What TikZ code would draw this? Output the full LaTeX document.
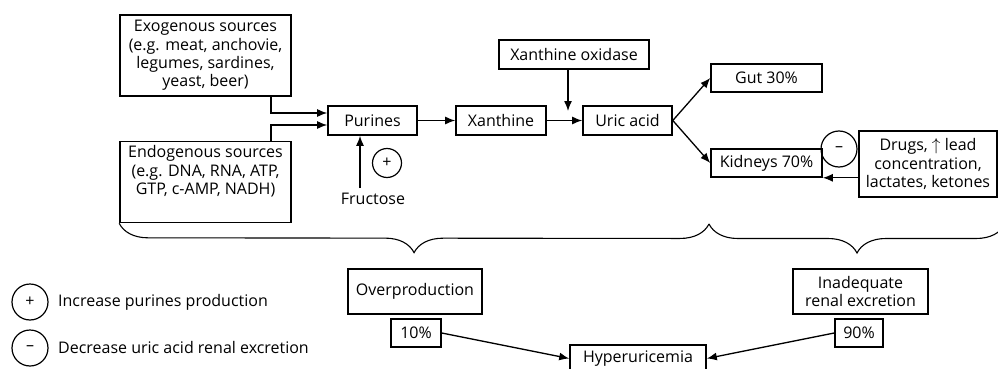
\documentclass[tikz,border=0pt]{standalone}
\usepackage{fontspec}
\setmainfont{Open Sans}
\usetikzlibrary{arrows.meta,decorations.pathreplacing}
\begin{document}
\begin{tikzpicture}[x=1pt,y=-1pt,
  box/.style={draw, line width=1.6pt, inner sep=0pt, align=center, font=\fontsize{16}{18.3}\selectfont},
  arr/.style={line width=1.3pt, -{Latex[length=10pt,width=8pt]}},
  sig/.style={draw, circle, line width=1.2pt, inner sep=0pt, font=\fontsize{16}{16}\selectfont},
  lbl/.style={inner sep=0pt, font=\fontsize{16}{18.3}\selectfont},
  brc/.style={line width=1.1pt, decorate, decoration={brace, mirror, amplitude=29pt}}]
\useasboundingbox (0,0) rectangle (998,369);

\node[box, minimum width=171pt, minimum height=81pt] (exo) at (205.5,55.5)
  {Exogenous sources\\(e.g. meat, anchovie,\\legumes, sardines,\\yeast, beer)};
\node[box, minimum width=171pt, minimum height=81pt] (endo) at (205.5,182)
  {Endogenous sources\\(e.g. DNA, RNA, ATP,\\GTP, c-AMP, NADH)\\ \strut};
\node[box, minimum width=89pt, minimum height=29pt] (pur) at (372.5,120.5) {Purines};
\node[box, minimum width=90pt, minimum height=29pt] (xan) at (501,120.5) {Xanthine};
\node[box, minimum width=89pt, minimum height=29pt] (uric) at (627.5,120.5) {Uric acid};
\node[box, minimum width=150pt, minimum height=29pt] (xo) at (574,54.5) {Xanthine oxidase};
\node[box, minimum width=111pt, minimum height=28pt] (gut) at (766.5,78) {Gut 30\%};
\node[box, minimum width=111pt, minimum height=28pt] (kid) at (766.5,163) {Kidneys 70\%};
\node[box, minimum width=138pt, minimum height=66pt] (drugs) at (928,164)
  {Drugs, $\uparrow$ lead\\concentration,\\lactates, ketones};
\node[box, minimum width=134pt, minimum height=45pt] (over) at (415,291.5) {Overproduction};
\node[box, minimum width=50pt, minimum height=28pt] (p10) at (416,333) {10\%};
\node[box, minimum width=135pt, minimum height=45pt] (inad) at (860.5,291.5) {Inadequate\\renal excretion};
\node[box, minimum width=48pt, minimum height=28pt] (p90) at (859,333) {90\%};
\node[box, minimum width=136pt, minimum height=27pt] (hyper) at (638,358.5) {Hyperuricemia};

\node[lbl] (fru) at (373,199) {Fructose};
\node[sig, minimum size=29pt] (pf) at (387,163) {+};
\node[sig, minimum size=36pt] (md) at (839,149) {–};

\node[sig, minimum size=36pt] (lp) at (30,302) {+};
\node[lbl, anchor=west] (lpt) at (58,302) {Increase purines production};
\node[sig, minimum size=36pt] (lm) at (30,348) {–};
\node[lbl, anchor=west] (lmt) at (58,347) {Decrease uric acid renal excretion};

\coordinate (e1) at (271,113);
\coordinate (e2) at (271,125);
\draw[arr] (exo.south -| e1) |- (pur.west |- e1);
\draw[arr] (endo.north -| e2) |- (pur.west |- e2);
\draw[arr] (pur) -- (xan);
\draw[arr] (xan) -- (uric);
\coordinate (xoe) at (568,111);
\draw[arr] (xo.south -| xoe) -- (xoe);
\draw[arr] (uric.east) -- (gut.west);
\draw[arr] (uric.east) -- (kid.west);
\draw[arr] (drugs.west |- kid.south east) -- (kid.south east);
\coordinate (fs) at (360,188);
\draw[arr] (fs) -- (fs |- pur.south);
\draw[arr] (p10.east) -- (hyper.west);
\draw[arr] (p90.west) -- (hyper.east);

\coordinate (bm) at (709,224);
\coordinate (br) at (1005,224);
\draw[brc] (endo.south west) -- (bm);
\draw[brc] (bm) -- (br);
\end{tikzpicture}
\end{document}
